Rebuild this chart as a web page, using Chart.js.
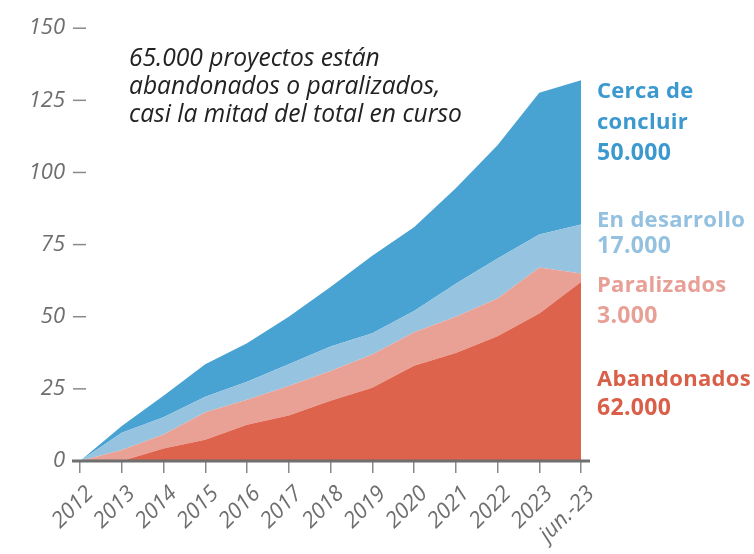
<!DOCTYPE html>
<html>
<head>
<meta charset="utf-8">
<script src="https://cdn.jsdelivr.net/npm/chart.js@4"></script>
<style>
  body { margin: 0; background: #fff; }
  #wrap { position: relative; width: 754px; height: 554px; }
  .note {
    position: absolute; left: 129px; top: 43px;
    font: italic 24.6px "Open Sans", sans-serif; line-height: 28px; color: #222;
  }
  .lbl {
    position: absolute; left: 597px;
    font: bold 22px "Open Sans", sans-serif; letter-spacing: 0.3px;
  }
  .lbl .num { font-size: 23px; }
</style>
</head>
<body>
<div id="wrap">
  <canvas id="chart"></canvas>
  <div class="note">65.000 proyectos están<br>abandonados o paralizados,<br>casi la mitad del total en curso</div>
  <div class="lbl" style="top:74px; line-height:31px; color:#3b99cf">Cerca de<br>concluir<br><span class="num">50.000</span></div>
  <div class="lbl" style="top:205px; line-height:26px; color:#93c1df">En desarrollo<br><span class="num">17.000</span></div>
  <div class="lbl" style="top:268px; line-height:31px; color:#e8a096">Paralizados<br><span class="num">3.000</span></div>
  <div class="lbl" style="top:363px; line-height:29px; color:#da5f48">Abandonados<br><span class="num">62.000</span></div>
</div>
<script>
// datos (miles de proyectos)
const years = ['2012', '2013', '2014', '2015', '2016', '2017', '2018', '2019', '2020', '2021', '2022', '2023', 'jun.-23'];
const abandonados = [0, 0, 4.3, 7.4, 12.6, 15.8, 20.9, 25.4, 33, 37.4, 43.2, 51.1, 62];
const paralizados = [0, 3.8, 4.9, 9.5, 8.6, 10.2, 10.3, 11.5, 11.6, 12.6, 13.1, 16, 3];
const enDesarrollo = [0, 6, 6, 5.4, 6.3, 7.5, 8.5, 7.4, 7.4, 11.4, 13.9, 11.4, 17];
const cercaConcluir = [0, 2.3, 7.4, 11.2, 13.3, 16.5, 20.6, 26.8, 29, 33.1, 39.2, 49.1, 50];
const yTicks = [0, 25, 50, 75, 100, 125, 150];

const gray = '#6e6e6e';

// linea base y guiones del eje Y
const axisPlugin = {
    id: 'axisPlugin',
    afterDatasetsDraw(chart) {
        const c = chart.ctx;
        const x = chart.scales.x, y = chart.scales.y;
        c.save();
        c.strokeStyle = '#8a8a8a';
        c.lineWidth = 1.5;
        yTicks.forEach(v => {
            const py = y.getPixelForValue(v);
            c.beginPath();
            c.moveTo(x.left - 7, py);
            c.lineTo(x.left + 6, py);
            c.stroke();
        });
        const base = y.getPixelForValue(0);
        c.strokeStyle = '#6f6f6f';
        c.lineWidth = 3;
        c.beginPath();
        c.moveTo(x.left - 8, base);
        c.lineTo(x.right + 9, base);
        c.stroke();
        c.restore();
    }
};

function area(label, data, color, fill) {
    return {
        label: label,
        data: data,
        backgroundColor: color,
        borderColor: color,
        borderWidth: 0,
        pointRadius: 0,
        fill: fill,
        tension: 0
    };
}

const ctx = document.getElementById('chart').getContext('2d');
const chart = new Chart(ctx, {
    type: 'line',
    data: {
        labels: years,
        datasets: [
            area('Abandonados', abandonados, '#de634d', 'origin'),
            area('Paralizados', paralizados, '#e9a196', '-1'),
            area('En desarrollo', enDesarrollo, '#95c3e0', '-1'),
            area('Cerca de concluir', cercaConcluir, '#48a3d3', '-1')
        ]
    },
    options: {
        responsive: true,
        maintainAspectRatio: false,
        animation: false,
        layout: { padding: { top: 23, right: 173, left: 0, bottom: 0 } },
        plugins: { legend: { display: false }, tooltip: { enabled: false } },
        scales: {
            x: {
                offset: false,
                grid: { display: true, drawOnChartArea: false, drawTicks: true, tickLength: 12, color: '#8a8a8a', lineWidth: 1.5 },
                border: { display: false },
                ticks: {
                    autoSkip: false, minRotation: 45, maxRotation: 45, padding: 8, labelOffset: 10,
                    color: gray, font: { family: 'Open Sans', style: 'italic', size: 22 }
                },
                afterFit(scale) { scale.height = 93; }
            },
            y: {
                stacked: true,
                min: 0, max: 150,
                grid: { display: false, drawTicks: false },
                border: { display: false },
                ticks: {
                    stepSize: 25, padding: 15,
                    color: gray, font: { family: 'Open Sans', style: 'italic', size: 22 }
                },
                afterFit(scale) { scale.width = 80; }
            }
        }
    },
    plugins: [axisPlugin]
});
</script>
</body>
</html>
